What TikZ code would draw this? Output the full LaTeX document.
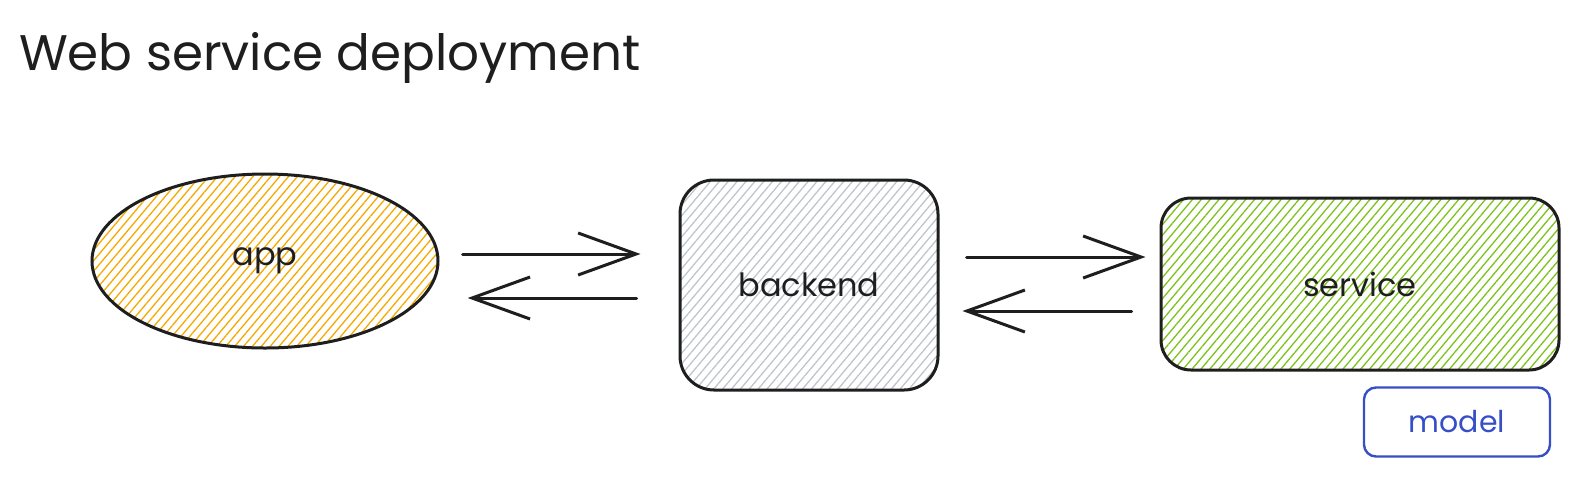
\documentclass[tikz,border=0pt]{standalone}
\usepackage{fontspec}
\setmainfont{Poppins}
\usetikzlibrary{arrows.meta,positioning,calc,shapes.geometric,patterns.meta}
\definecolor{Ink}{HTML}{1E1E1E}
\definecolor{AppFill}{HTML}{F5A800}
\definecolor{BackFill}{HTML}{BFC5CC}
\definecolor{ServFill}{HTML}{7CC21A}
\definecolor{ModelInk}{HTML}{364FC7}

\begin{document}
\begin{tikzpicture}[x=0.5pt,y=-0.5pt,every node/.style={font=\fontsize{16pt}{19pt}\selectfont,text=Ink},
  sketch/.style={draw=Ink,line width=1.5pt,inner sep=0pt},
  hatch/.style={pattern={Lines[angle=50,distance=3.4pt,line width=0.65pt]},pattern color=#1},
  flow/.style={draw=Ink,line width=1.5pt,line cap=round,-{Straight Barb[length=29pt,width=21pt,line width=1.5pt]}}]
\useasboundingbox (0,0) rectangle (1579,478);
\node[anchor=base west,font=\fontsize{25pt}{30pt}\selectfont] (title) at (12,70) {Web service deployment};
\node[sketch,ellipse,hatch=AppFill,minimum width=173pt,minimum height=87pt] (app) at (265,261) {app};
\node[sketch,rounded corners=17pt,hatch=BackFill,minimum width=129pt,minimum height=105pt] (backend) at (809,285) {backend};
\node[sketch,rounded corners=15pt,hatch=ServFill,minimum width=199pt,minimum height=86pt] (service) at (1360,284) {service};
\node[draw=ModelInk,line width=1.2pt,rounded corners=6pt,minimum width=93pt,minimum height=34.5pt,inner sep=0pt,
  text=ModelInk,font=\fontsize{15pt}{18pt}\selectfont] (model) at (1457,422) {model};
% requests and replies
\draw[flow,shorten <=12pt,shorten >=19pt] (app.east |- 0,254) -- (backend.west |- 0,254);
\draw[flow,shorten <=21pt,shorten >=14.5pt] (backend.west |- 0,298) -- (app.east |- 0,298);
\draw[flow,shorten <=13.5pt,shorten >=7pt] (backend.east |- 0,257) -- (service.west |- 0,257);
\draw[flow,shorten <=14pt,shorten >=11.5pt] (service.west |- 0,311) -- (backend.east |- 0,311);
\end{tikzpicture}
\end{document}
